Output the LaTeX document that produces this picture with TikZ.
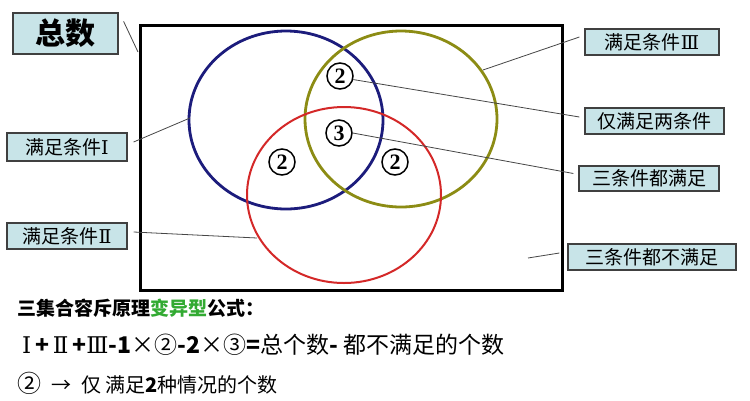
\documentclass[tikz,border=0pt]{standalone}
\usepackage{fontspec}
\newfontfamily\cjk{Noto Sans CJK SC}
\newfontfamily\rmnum{DejaVu Serif}
\newfontfamily\digits{Liberation Serif}
\usetikzlibrary{positioning}
\definecolor{boxcyan}{RGB}{200,228,232}
\definecolor{boxgray}{RGB}{64,64,64}
\definecolor{leadgray}{RGB}{70,70,70}
\definecolor{setblue}{RGB}{28,28,124}
\definecolor{setolive}{RGB}{140,140,20}
\definecolor{setred}{RGB}{212,40,40}
\definecolor{fgreen}{RGB}{50,170,50}
\newcommand{\rn}[1]{{\rmnum #1}}
\begin{document}
\begin{tikzpicture}[x=1pt, y=-1pt,
  lblbox/.style={draw=boxgray, fill=boxcyan, line width=1.2pt, inner sep=0pt,
               minimum height=26pt, font=\cjk\fontsize{19}{22}\selectfont},
  lead/.style={draw=leadgray, line width=0.8pt},
  num/.style={circle, draw, line width=1.5pt, inner sep=0pt, minimum size=26pt,
              font=\digits\bfseries\fontsize{22}{22}\selectfont},
  line/.style={anchor=west, inner sep=0pt}]
\useasboundingbox (0,0) rectangle (750,400);
\fill[white] (0,0) rectangle (750,400);
% frame and the three sets
\draw[line width=3pt] (140,25) rectangle (562,290);
\draw[setblue, line width=2.8pt] (286,120) ellipse [x radius=97, y radius=89];
\draw[setolive, line width=2.8pt] (401,119) ellipse [x radius=96, y radius=88];
\draw[setred, line width=2pt] (344,195) ellipse [x radius=97, y radius=88];
\coordinate (kTot) at (138,52);
\coordinate (kI) at (190,118);
\coordinate (kII) at (257,238);
\coordinate (kIII) at (483,70);
\coordinate (kNone) at (528,258);
% circled counts
\node[num] (n2t) at (340,76) {2};
\node[num] (n3) at (339,133) {3};
\node[num] (n2l) at (282,162) {2};
\node[num] (n2r) at (395,162) {2};
% labels
\node[lblbox, minimum width=105pt, minimum height=41pt,
      font=\cjk\bfseries\fontsize{30}{32}\selectfont] (tot) at (65.5,33.5) {总数};
\node[lblbox, minimum width=120pt, minimum height=28pt] (b1) at (67,147) {满足条件\rn{Ⅰ}};
\node[lblbox, minimum width=120pt] (b2) at (67,236) {满足条件\rn{Ⅱ}};
\node[lblbox, minimum width=134pt] (b3) at (652,42) {满足条件\rn{Ⅲ}};
\node[lblbox, minimum width=139pt] (two) at (654.5,121) {仅满足两条件};
\node[lblbox, minimum width=140pt, minimum height=25pt] (all3) at (649,178.5) {三条件都满足};
\node[lblbox, minimum width=168pt] (none) at (652,257) {三条件都不满足};
\draw[lead] ([xshift=5pt,yshift=-9pt]tot.north east) -- (kTot);
\draw[lead] ([xshift=6pt,yshift=5pt]b1.east) -- (kI);
\draw[lead] ([xshift=6pt,yshift=4pt]b2.east) -- (kII);
\draw[lead] ([xshift=-5pt,yshift=5pt]b3.west) -- (kIII);
\draw[lead] ([xshift=-5pt,yshift=4pt]two.west) -- (n2t.-15);
\draw[lead] ([xshift=-5pt,yshift=5pt]all3.west) -- (n3.east);
\draw[lead] ([xshift=-8pt,yshift=4pt]none.west) -- (kNone);
% formula text
\node[line, font=\cjk\bfseries\fontsize{19}{22}\selectfont] (f1) at (17,308)
  {三集合容斥原理\textcolor{fgreen}{变异型}公式：};
\node[line, font=\cjk\fontsize{23}{25}\selectfont] (f2) at (22,345)
  {\rn{Ⅰ}\,\textbf{+}\,\rn{Ⅱ}\,\textbf{+}\rn{Ⅲ}\textbf{-1}×②\textbf{-2}×③\textbf{=}总个数\textbf{-} 都不满足的个数};
\node[line, font=\cjk\fontsize{20}{22}\selectfont] (f3) at (17,383)
  {{\fontsize{24}{24}\selectfont ②}\enspace→\enspace 仅 满足\textbf{2}种情况的个数};
\end{tikzpicture}
\end{document}
